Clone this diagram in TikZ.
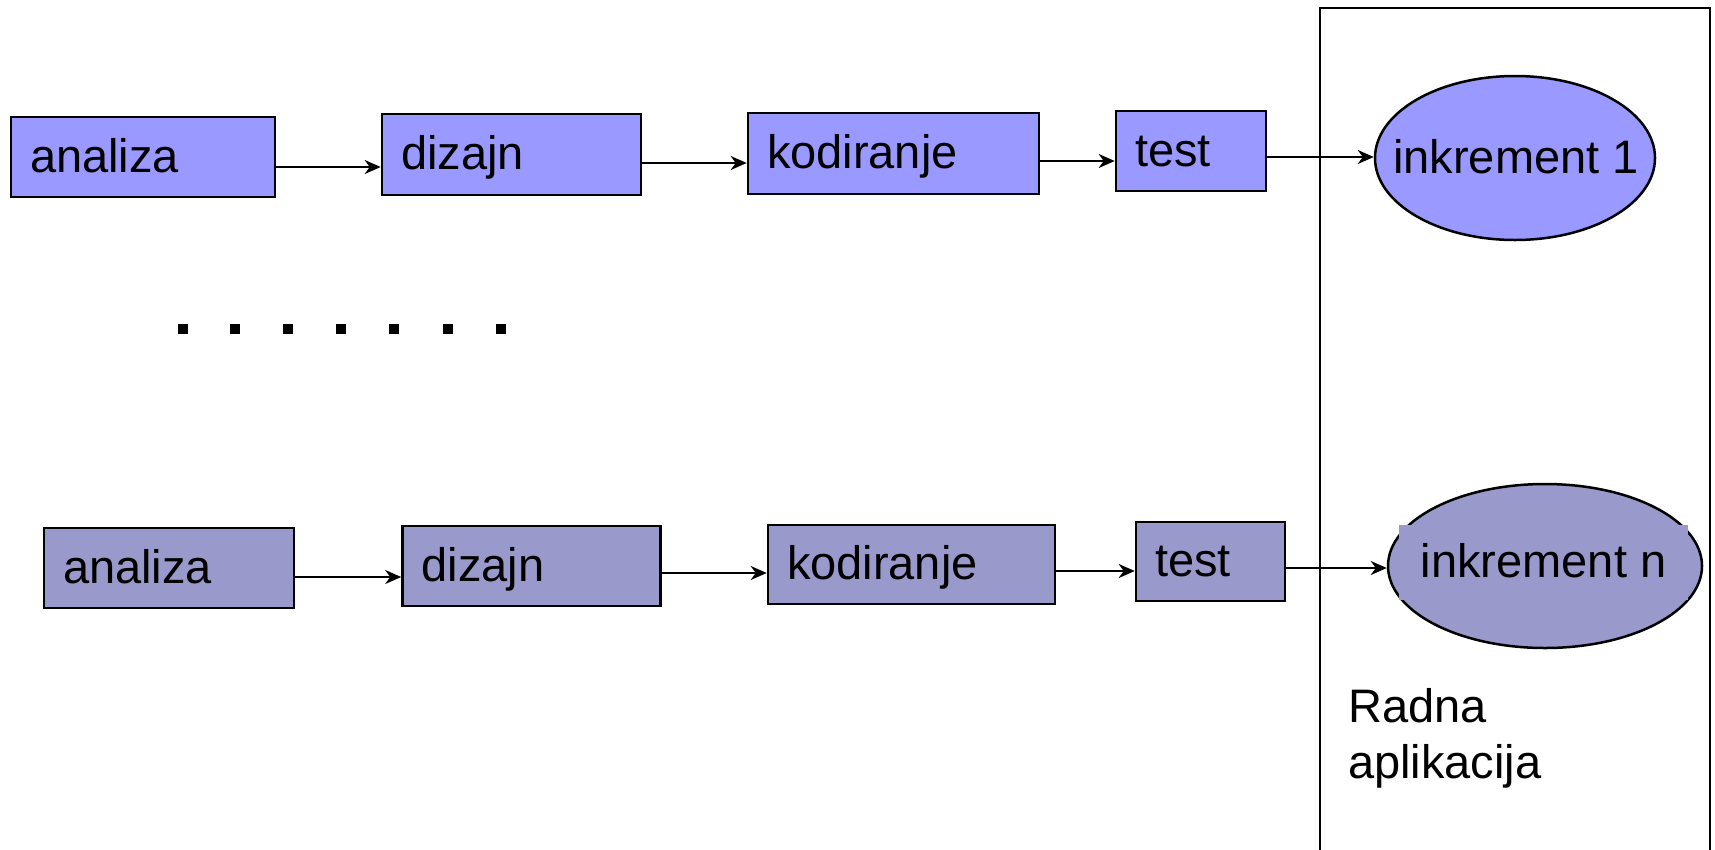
\documentclass[tikz,border=0pt]{standalone}
\usepackage{fontspec}
\setmainfont{Liberation Sans}
\usetikzlibrary{shapes.geometric,arrows.meta,calc}
\definecolor{rowa}{RGB}{153,153,255}
\definecolor{rowb}{RGB}{153,153,204}
\begin{document}
\begin{tikzpicture}[x=1pt,y=-1pt,
  every node/.style={font=\fontsize{47}{56}\selectfont},
  stepbox/.style={draw=black, line width=2.6pt, rectangle, inner xsep=19pt, inner ysep=0pt,
     align=left, text height=37.6pt, text depth=7.5pt},
  ell/.style={draw=black, line width=2.5pt, ellipse, inner sep=0pt},
  elltext/.style={inner sep=0pt, text height=37.6pt, text depth=7.5pt},
  arr/.style={line width=2pt, -{Stealth[length=16pt,width=14pt,inset=5pt]}},
  frame/.style={line width=2.5pt},
  dotsq/.style={fill=black}
]
\useasboundingbox (0,0) rectangle (1715,849);

% big frame (working application)
\draw[frame] (1320,860) |- (1710,8) -- (1710,860);

% top row
\node[stepbox, fill=rowa, minimum width=264pt, minimum height=80pt, text width=226pt] (a1) at (143,157) {analiza};
\node[stepbox, fill=rowa, minimum width=259pt, minimum height=81pt, text width=221pt] (d1) at (511.5,154.5) {dizajn};
\node[stepbox, fill=rowa, minimum width=291pt, minimum height=81pt, text width=253pt] (k1) at (893.5,153.5) {kodiranje};
\node[stepbox, fill=rowa, minimum width=150pt, minimum height=80pt, text width=112pt] (t1) at (1191,151) {test};
\node[ell, fill=rowa, minimum width=280pt, minimum height=164pt] (e1) at (1515,158) {};
\node[elltext] (e1t) at (1516,158) {inkrement 1};

\draw[arr] ([yshift=-10pt]a1.east) -- ([yshift=-10pt]a1.east -| d1.west);
\draw[arr] ([yshift=-8.5pt]d1.east) -- ([yshift=-8.5pt]d1.east -| k1.west);
\draw[arr] ([yshift=-7.5pt]k1.east) -- ([yshift=-7.5pt]k1.east -| t1.west);
\draw[arr] ([yshift=-6pt]t1.east) -- ([yshift=-6pt]t1.east -| e1.west);

% dots
\foreach \px in {183,235,288,341,394,448,501}
  \fill[dotsq] (\px-5,324) rectangle (\px+5,334);

% bottom row
\node[stepbox, fill=rowb, minimum width=250pt, minimum height=80pt, text width=212pt] (a2) at (169,568) {analiza};
\node[stepbox, fill=rowb, minimum width=258pt, minimum height=80pt, text width=220pt] (d2) at (531.5,566) {dizajn};
\node[stepbox, fill=rowb, minimum width=287pt, minimum height=79pt, text width=249pt] (k2) at (911.5,564.5) {kodiranje};
\node[stepbox, fill=rowb, minimum width=149pt, minimum height=79pt, text width=111pt] (t2) at (1210.5,561.5) {test};
\node[ell, fill=rowb, minimum width=314pt, minimum height=164pt] (e2) at (1545,566) {};
\node[elltext, fill=rowb, minimum width=289pt, minimum height=75pt] (e2t) at (1543.5,562.5) {inkrement n};

\draw[arr] ([yshift=-9pt]a2.east) -- ([yshift=-9pt]a2.east -| d2.west);
\draw[arr] ([yshift=-7pt]d2.east) -- ([yshift=-7pt]d2.east -| k2.west);
\draw[arr] ([yshift=-6.5pt]k2.east) -- ([yshift=-6.5pt]k2.east -| t2.west);
\draw[arr] ([yshift=-6.5pt]t2.east) -- ([yshift=-6.5pt]t2.east -| e2.west);

% label
\node[anchor=base west, inner sep=0pt] (r1) at (1348,722) {Radna};
\node[anchor=base west, inner sep=0pt] (r2) at (1348,778) {aplikacija};
\end{tikzpicture}
\end{document}
